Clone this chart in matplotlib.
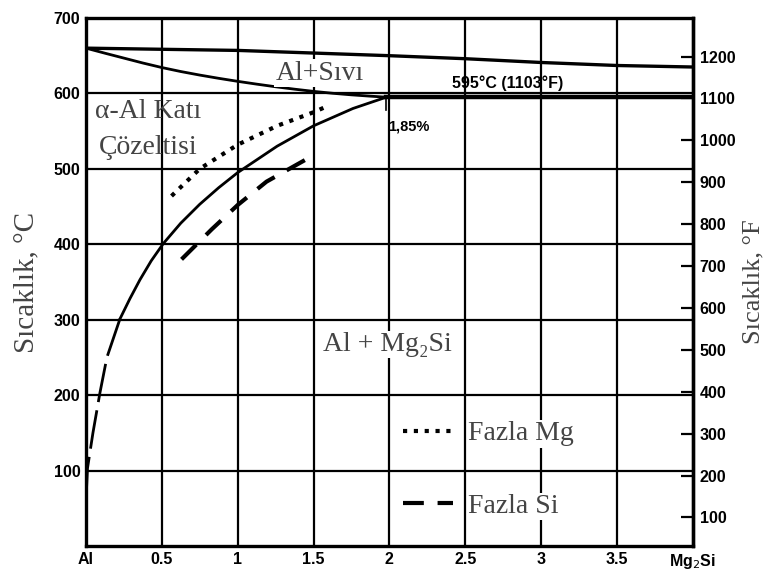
import matplotlib.pyplot as plt

# --------- DATA ---------
# liquidus (upper line)
liq_x = [0, 1, 2, 2.5, 3, 3.5, 4]
liq_y = [660, 657, 650, 646, 641, 637, 635]

# solidus curve from Al melting point to eutectic point
sol_x = [0, 0.125, 0.25, 0.375, 0.5, 0.625, 0.75, 0.875, 1.0, 1.125, 1.25, 1.375, 1.5, 1.625, 1.75, 1.87, 1.98]
sol_y = [660, 653.3, 646.8, 640.3, 634.3, 629, 624.3, 620, 616, 612.3, 608.8, 605.6, 602.7, 600.2, 598.1, 596.4, 595]

# eutectic horizontal
eut_x = [1.98, 4]
eut_y = [595, 595]

# solvus (solid part)
solv_x = [1.98, 1.76, 1.5, 1.26, 1.0, 0.875, 0.75, 0.625, 0.51, 0.43, 0.356, 0.29, 0.224]
solv_y = [595, 580, 557, 530, 495, 475, 453, 428, 401, 378, 353, 328, 301]

# solvus extrapolated (long dash)
solv_ext_x = [0.224, 0.138, 0.092, 0.046, 0.01, 0.0]
solv_ext_y = [301, 250, 203, 150, 103, 60]

# excess Mg (dotted)
mg_x = [0.564, 0.75, 1.0, 1.26, 1.5, 1.59]
mg_y = [464, 500, 532, 557, 575, 583]

# excess Si (dashed)
si_x = [0.63, 0.83, 1.0, 1.19, 1.5]
si_y = [380, 420, 452, 483, 518]

x_ticks = [0, 0.5, 1, 1.5, 2, 2.5, 3, 3.5, 4]
x_labels = ["Al", "0.5", "1", "1.5", "2", "2.5", "3", "3.5", "Mg$_2$Si"]
c_ticks = [100, 200, 300, 400, 500, 600, 700]
f_ticks = [100, 200, 300, 400, 500, 600, 700, 800, 900, 1000, 1100, 1200]

SERIF = ["Liberation Serif", "DejaVu Serif"]
TICKFONT = ["Liberation Sans", "DejaVu Sans"]
GREY = "#444444"


def c2f(c):
    return c * 9 / 5 + 32


def f2c(f):
    return (f - 32) * 5 / 9


fig = plt.figure(figsize=(7.71, 5.78), dpi=100)
ax = fig.add_axes([0.1115, 0.0554, 0.787, 0.9135])
ax.set_xlim(0, 4)
ax.set_ylim(0, 700)

# grid
for xv in x_ticks[1:-1]:
    ax.axvline(xv, color="black", lw=1.6, zorder=1)
for yv in c_ticks[:-1]:
    ax.axhline(yv, color="black", lw=1.6, zorder=1)

for s in ax.spines.values():
    s.set_linewidth(2.4)

lw = 2.0
ax.plot(liq_x, liq_y, color="black", lw=2.4, zorder=3)
ax.plot(sol_x, sol_y, color="black", lw=lw, zorder=3)
ax.plot(eut_x, eut_y, color="black", lw=3.2, zorder=3)
ax.plot(solv_x, solv_y, color="black", lw=lw, zorder=3)
ax.plot(solv_ext_x, solv_ext_y, color="black", lw=lw, dashes=(14, 3), zorder=3)
# small mark under eutectic point
ax.plot([1.98, 1.98], [595, 578], color="black", lw=1.2, zorder=3)

l_mg, = ax.plot(mg_x, mg_y, color="black", lw=3, linestyle=(0, (1, 1.6)), zorder=3,
                label="Fazla Mg")
l_si, = ax.plot(si_x, si_y, color="black", lw=3, dashes=(5, 3.3), zorder=3,
                label="Fazla Si")

# ticks
ax.set_xticks(x_ticks)
ax.set_xticklabels(x_labels)
ax.set_yticks(c_ticks)
ax.tick_params(axis="both", length=0, pad=4)
for lab in ax.get_xticklabels() + ax.get_yticklabels():
    lab.set_family(TICKFONT)
    lab.set_fontweight("bold")
    lab.set_fontsize(11.5)

sec = ax.secondary_yaxis("right", functions=(c2f, f2c))
sec.set_yticks(f_ticks)
sec.tick_params(axis="y", direction="in", length=9, width=1.6, pad=5)
sec.spines["right"].set_linewidth(2.4)
for lab in sec.get_yticklabels():
    lab.set_family(TICKFONT)
    lab.set_fontweight("bold")
    lab.set_fontsize(11.5)

ax.set_ylabel("Sıcaklık, °C", family=SERIF, fontsize=21, color=GREY, labelpad=10)
sec.set_ylabel("Sıcaklık, °F", family=SERIF, fontsize=19, color=GREY, labelpad=5)

# region labels
box = dict(facecolor="white", edgecolor="none", pad=1)
ax.text(1.54, 627, "Al+Sıvı", family=SERIF, fontsize=20, color=GREY,
        ha="center", va="center", bbox=box, zorder=4)
ax.text(0.41, 576, "α-Al Katı", family=SERIF, fontsize=20, color=GREY,
        ha="center", va="center", zorder=4)
ax.text(0.41, 528, "Çözeltisi", family=SERIF, fontsize=20, color=GREY,
        ha="center", va="center", zorder=4)
ax.text(1.99, 267, "Al + Mg₂Si", family=SERIF, fontsize=20, color=GREY,
        ha="center", va="center", bbox=box, zorder=4)
ax.text(2.78, 614, "595°C (1103°F)", family=TICKFONT, fontweight="bold",
        fontsize=11.5, ha="center", va="center", zorder=4)
ax.text(2.13, 556, "1,85%", family=TICKFONT, fontweight="bold",
        fontsize=10.5, ha="center", va="center", zorder=4)

leg = ax.legend(handles=[l_mg, l_si], loc="center left",
                bbox_to_anchor=(0.504, 0.144), frameon=False, borderaxespad=0,
                handlelength=1.8, handletextpad=0.55, labelspacing=1.7,
                prop={"family": SERIF, "size": 20})
for t in leg.get_texts():
    t.set_color(GREY)
    t.set_bbox(dict(facecolor="white", edgecolor="none", pad=1))

plt.savefig("out.png", dpi=100)
plt.close()
